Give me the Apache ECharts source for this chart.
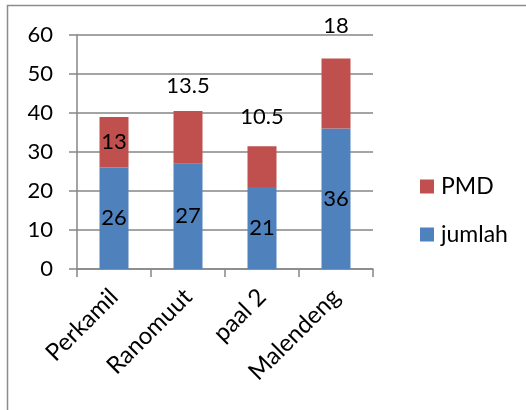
<!DOCTYPE html>
<html>
<head>
<meta charset="utf-8">
<script src="https://cdn.jsdelivr.net/npm/echarts@6/dist/echarts.min.js"></script>
<style>
html,body{margin:0;padding:0;background:#fff;}
#c{width:526px;height:410px;}
</style>
</head>
<body>
<div id="c"></div>
<script>
const categories = ['Perkamil', 'Ranomuut', 'paal 2', 'Malendeng'];
const jumlah = [26, 27, 21, 36];
const pmd = [13, 13.5, 10.5, 18];
const yTicks = [0, 10, 20, 30, 40, 50, 60];

const FONT = 'Lato';
const FS = 22;
const pmdLabelPos = [
  { position: 'inside' },
  { position: 'top', distance: 14 },
  { position: 'top', distance: 18 },
  { position: 'top', distance: 21 }
];

const chart = echarts.init(document.getElementById('c'), null, { renderer: 'canvas' });
chart.setOption({
  animation: false,
  backgroundColor: '#fff',
  textStyle: { fontFamily: FONT },
  graphic: [{
    type: 'rect',
    shape: { x: 7.5, y: 5.5, width: 540, height: 420 },
    style: { fill: 'none', stroke: '#8c8c8c', lineWidth: 1.5 },
    silent: true
  }],
  grid: { left: 77, right: 153, top: 35, bottom: 141, containLabel: false },
  legend: {
    orient: 'vertical',
    left: 415,
    top: 170,
    itemWidth: 14,
    itemHeight: 14,
    itemGap: 25,
    icon: 'rect',
    data: ['PMD', 'jumlah'],
    textStyle: { fontFamily: FONT, fontSize: 23, color: '#000', padding: [0, 0, 0, 2] }
  },
  xAxis: {
    type: 'category',
    data: categories,
    boundaryGap: true,
    axisLine: { lineStyle: { color: '#868686', width: 1.5 } },
    axisTick: { show: true, alignWithLabel: false, length: 8, lineStyle: { color: '#868686', width: 1.5 } },
    axisLabel: { rotate: 45, margin: 24, fontFamily: FONT, fontSize: 24, color: '#000', interval: 0 }
  },
  yAxis: {
    type: 'value',
    min: yTicks[0],
    max: yTicks[yTicks.length - 1],
    interval: 10,
    axisLine: { show: true, lineStyle: { color: '#868686', width: 1.5 } },
    axisTick: { show: true, length: 8, lineStyle: { color: '#868686', width: 1.5 } },
    axisLabel: { margin: 24, fontFamily: FONT, fontSize: FS, color: '#000' },
    splitLine: { lineStyle: { color: '#868686', width: 1.5 } }
  },
  series: [
    {
      name: 'jumlah',
      type: 'bar',
      stack: 'a',
      data: jumlah,
      barWidth: 29,
      itemStyle: { color: '#4F81BD' },
      label: { show: true, position: 'inside', fontFamily: FONT, fontSize: FS, color: '#000' }
    },
    {
      name: 'PMD',
      type: 'bar',
      stack: 'a',
      barWidth: 29,
      data: pmd.map((v, i) => ({ value: v, label: pmdLabelPos[i] })),
      itemStyle: { color: '#C0504D' },
      label: { show: true, fontFamily: FONT, fontSize: FS, color: '#000' }
    }
  ]
});
</script>
</body>
</html>
